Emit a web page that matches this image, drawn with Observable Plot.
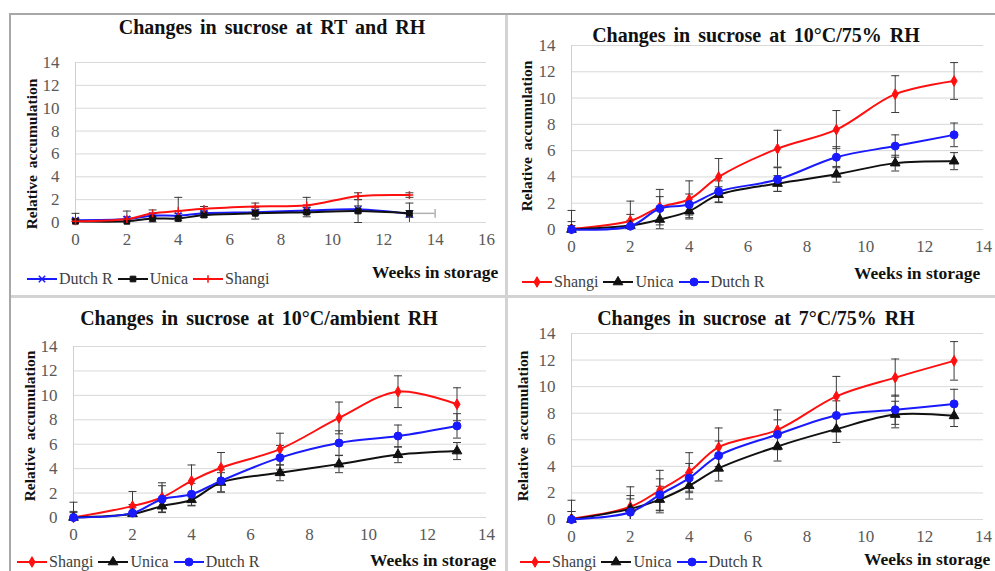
<!DOCTYPE html>
<html><head><meta charset="utf-8">
<script src="https://cdn.jsdelivr.net/npm/d3@7"></script>
<script src="https://cdn.jsdelivr.net/npm/@observablehq/plot@0.6"></script>
<style>
html,body{margin:0;padding:0;background:#fff;overflow:hidden;}
#root{position:relative;width:995px;height:571px;overflow:hidden;font-family:"Liberation Serif","Times New Roman",serif;background:#fff;}
.title{position:absolute;font-weight:bold;font-size:20px;white-space:nowrap;color:#111;transform:translate(-50%,-50%);word-spacing:3px;}
.ylab{position:absolute;font-weight:bold;font-size:15.5px;white-space:nowrap;color:#111;transform:translate(-50%,-50%) rotate(-90deg);word-spacing:3px;}
.xlab{position:absolute;font-weight:bold;font-size:17.5px;white-space:nowrap;color:#111;transform:translateY(-50%);}
.legend{position:absolute;display:flex;align-items:center;font-size:16px;color:#404040;white-space:nowrap;transform:translateY(-50%);}
.legend span{margin:0 5px 0 2px;}
.line{position:absolute;}
</style></head>
<body><div id="root"></div>
<script>
// ---------- data ----------
const weeks = [0, 2, 3, 4, 5, 7, 9, 11, 13];
const yTicks = [0, 2, 4, 6, 8, 10, 12, 14];
const xTicks16 = [0, 2, 4, 6, 8, 10, 12, 14, 16];
const xTicks14 = [0, 2, 4, 6, 8, 10, 12, 14];

// Panel 1: RT and RH
const rtShangi    = [0.1, 0.3, 0.8, 1.0, 1.2, 1.4, 1.5, 2.3, 2.4];
const rtShangiErr = [0.7, 0.7, 0.3, 1.2, 0.2, 0.3, 0.7, 0.3, 0.2];
const rtUnica     = [0.1, 0.1, 0.35, 0.35, 0.65, 0.8, 0.9, 1.0, 0.8];
const rtUnicaErr  = [0.2, 0.2, 0.3, 0.2, 0.2, 0.5, 0.4, 1.0, 0.9];
const rtDutch     = [0.2, 0.3, 0.6, 0.6, 0.8, 0.9, 1.05, 1.15, 0.75];
const rtDutchErr  = [0.1, 0.2, 0.2, 0.2, 0.2, 0.2, 0.3, 0.3, 0.3];
const rtUnicaXErr = [0, 0, 0, 0, 0, 0, 0, 0, 1];

// Panel 2: 10°C / 75% RH
const c10Shangi    = [0.05, 0.66, 1.7, 2.3, 4.0, 6.15, 7.6, 10.3, 11.3];
const c10ShangiErr = [1.4, 1.5, 1.35, 1.4, 1.4, 1.4, 1.45, 1.4, 1.4];
const c10Unica     = [0, 0.3, 0.76, 1.4, 2.65, 3.5, 4.2, 5.05, 5.2];
const c10UnicaErr  = [0.3, 0.4, 0.7, 0.6, 0.6, 0.6, 0.6, 0.6, 0.65];
const c10Dutch     = [0, 0.25, 1.6, 1.9, 2.9, 3.8, 5.5, 6.35, 7.2];
const c10DutchErr  = [0.6, 0.9, 0.9, 0.8, 0.8, 0.9, 0.8, 0.85, 0.9];

// Panel 3: 10°C / ambient RH
const a10Shangi    = [0, 0.93, 1.64, 3.0, 4.07, 5.6, 8.15, 10.3, 9.27];
const a10ShangiErr = [1.25, 1.2, 1.2, 1.3, 1.25, 1.3, 1.3, 1.3, 1.35];
const a10Unica     = [0, 0.3, 0.93, 1.45, 2.87, 3.66, 4.37, 5.14, 5.44];
const a10UnicaErr  = [0.4, 0.5, 0.5, 0.5, 0.8, 0.65, 0.7, 0.65, 0.7];
const a10Dutch     = [0, 0.36, 1.5, 1.9, 3.0, 4.9, 6.1, 6.67, 7.5];
const a10DutchErr  = [0.5, 0.7, 1.1, 0.9, 0.9, 1.0, 1.0, 0.9, 1.0];

// Panel 4: 7°C / 75% RH
const c7Shangi    = [0.05, 0.96, 2.2, 3.58, 5.44, 6.75, 9.27, 10.68, 11.94];
const c7ShangiErr = [1.4, 1.5, 1.5, 1.45, 1.45, 1.5, 1.5, 1.4, 1.45];
const c7Unica     = [0, 0.8, 1.5, 2.54, 3.85, 5.5, 6.8, 7.9, 7.8];
const c7UnicaErr  = [0.6, 1.0, 1.0, 1.0, 0.95, 1.1, 1.0, 1.0, 0.8];
const c7Dutch     = [0, 0.55, 1.86, 3.12, 4.81, 6.4, 7.83, 8.26, 8.7];
const c7DutchErr  = [0.6, 1.0, 1.2, 1.1, 1.1, 1.1, 1.1, 1.1, 1.1];

const titles = [
  "Changes in sucrose at RT and RH",
  "Changes in sucrose at 10°C/75% RH",
  "Changes in sucrose at 10°C/ambient RH",
  "Changes in sucrose at 7°C/75% RH"
];
const yLabel = "Relative accumulation";
const xLabel = "Weeks in storage";

// ---------- styles ----------
const RED = "#ff1010", BLACK = "#111111", BLUE = "#1a1aff";
const sShangi = {name: "Shangi", color: RED, symbol: "diamond", r: 3.2};
const sUnica = {name: "Unica", color: BLACK, symbol: "triangle", r: 3.6};
const sDutch = {name: "Dutch R", color: BLUE, symbol: "circle", r: 4};

const panels = [
  {title: titles[0], x0: 75, x1: 486, yb: 222, yt: 62, xmax: 16, xTicks: xTicks16, mr: 14,
   titleX: 272, titleY: 27, ylabX: 32, ylabY: 154, xlabX: 372, xlabY: 272, legX: 27, legY: 279,
   series: [
     {...sDutch, symbol: "times", r: 3, v: rtDutch, e: rtDutchErr},
     {...sUnica, symbol: "square", r: 3.2, v: rtUnica, e: rtUnicaErr, xe: rtUnicaXErr},
     {...sShangi, symbol: "plus", r: 2.6, v: rtShangi, e: rtShangiErr}
   ]},
  {title: titles[1], x0: 571, x1: 983, yb: 229, yt: 45, xmax: 14, xTicks: xTicks14, mr: 10,
   titleX: 756, titleY: 35, ylabX: 527, ylabY: 136, xlabX: 854, xlabY: 273, legX: 522, legY: 282,
   series: [
     {...sShangi, v: c10Shangi, e: c10ShangiErr},
     {...sUnica, v: c10Unica, e: c10UnicaErr},
     {...sDutch, v: c10Dutch, e: c10DutchErr}
   ]},
  {title: titles[2], x0: 73, x1: 486, yb: 517, yt: 346, xmax: 14, xTicks: xTicks14, mr: 14,
   titleX: 259, titleY: 318, ylabX: 30, ylabY: 426, xlabX: 370, xlabY: 560, legX: 17, legY: 562,
   series: [
     {...sShangi, v: a10Shangi, e: a10ShangiErr},
     {...sUnica, v: a10Unica, e: a10UnicaErr},
     {...sDutch, v: a10Dutch, e: a10DutchErr}
   ]},
  {title: titles[3], x0: 571, x1: 983, yb: 519, yt: 333, xmax: 14, xTicks: xTicks14, mr: 10,
   titleX: 756, titleY: 318, ylabX: 523, ylabY: 426, xlabX: 864, xlabY: 559, legX: 520, legY: 562,
   series: [
     {...sShangi, v: c7Shangi, e: c7ShangiErr},
     {...sUnica, v: c7Unica, e: c7UnicaErr},
     {...sDutch, v: c7Dutch, e: c7DutchErr}
   ]}
];

const strokeOnly = new Set(["times", "plus"]);
const capH = {draw(ctx, size) { const w = Math.sqrt(size) / 2; ctx.moveTo(-w, 0); ctx.lineTo(w, 0); }};
const capV = {draw(ctx, size) { const w = Math.sqrt(size) / 2; ctx.moveTo(0, -w); ctx.lineTo(0, w); }};
const d3sym = {diamond: d3.symbolDiamond, triangle: d3.symbolTriangle, circle: d3.symbolCircle,
               square: d3.symbolSquare, times: d3.symbolTimes, plus: d3.symbolPlus};

const root = document.getElementById("root");

function addDiv(cls, text, x, y) {
  const d = document.createElement("div");
  d.className = cls;
  d.textContent = text;
  d.style.left = x + "px";
  d.style.top = y + "px";
  root.appendChild(d);
  return d;
}

// frame / divider lines
function addLine(x, y, w, h, color) {
  const d = document.createElement("div");
  d.className = "line";
  Object.assign(d.style, {left: x + "px", top: y + "px", width: w + "px", height: h + "px", background: color});
  root.appendChild(d);
}
addLine(10, 13, 985, 2, "#a8a8a8");
addLine(9, 13, 2, 558, "#a8a8a8");
addLine(505, 15, 3, 556, "#d3d3d3");
addLine(11, 295, 984, 3, "#d3d3d3");

for (const p of panels) {
  const ml = 62, mr = p.mr, mt = 12, mb = 34;
  const width = p.x1 - p.x0 + ml + mr;
  const height = p.yb - p.yt + mt + mb;
  const marks = [
    Plot.ruleY(yTicks, {stroke: "#d9d9d9", strokeWidth: 1}),
    Plot.ruleX([0], {y1: 0, y2: 14, stroke: "#d0d0d0", strokeWidth: 1})
  ];
  for (const s of p.series) {
    const rows = weeks.map((w, i) => ({week: w, value: s.v[i], err: s.e[i], xe: s.xe ? s.xe[i] : 0}));
    marks.push(
      Plot.ruleX(rows, {x: "week", y1: d => Math.max(0, d.value - d.err), y2: d => d.value + d.err, stroke: "#3a3a3a", strokeWidth: 1}),
      Plot.dot(rows, {x: "week", y: d => d.value + d.err, symbol: capH, r: 4.5, stroke: "#3a3a3a", fill: "none", strokeWidth: 1}),
      Plot.dot(rows.filter(d => d.value - d.err >= 0), {x: "week", y: d => d.value - d.err, symbol: capH, r: 4.5, stroke: "#3a3a3a", fill: "none", strokeWidth: 1})
    );
    const xr = rows.filter(d => d.xe > 0);
    if (xr.length) {
      marks.push(
        Plot.ruleY(xr, {y: "value", x1: "week", x2: d => d.week + d.xe, stroke: "#b0b0b0", strokeWidth: 1.5}),
        Plot.dot(xr, {x: d => d.week + d.xe, y: "value", symbol: capV, r: 5, stroke: "#b0b0b0", fill: "none", strokeWidth: 1.5})
      );
    }
    s.rows = rows;
  }
  for (const s of p.series) {
    marks.push(Plot.line(s.rows, {x: "week", y: "value", stroke: s.color, strokeWidth: 2, curve: "catmull-rom"}));
  }
  for (const s of p.series) {
    const so = strokeOnly.has(s.symbol);
    marks.push(Plot.dot(s.rows, {x: "week", y: "value", symbol: s.symbol, r: s.r,
      fill: so ? "none" : s.color, stroke: s.color, strokeWidth: so ? 1.5 : 1}));
  }
  const svg = Plot.plot({
    width, height, marginLeft: ml, marginRight: mr, marginTop: mt, marginBottom: mb,
    x: {domain: [0, p.xmax], ticks: p.xTicks, tickSize: 0, tickPadding: 10, label: null},
    y: {domain: [0, 14], ticks: yTicks, tickSize: 0, tickPadding: 16, label: null},
    style: {fontFamily: "'Liberation Serif', 'Times New Roman', serif", fontSize: "17px", color: "#595959",
            background: "transparent", overflow: "visible"},
    marks
  });
  svg.style.position = "absolute";
  svg.style.left = (p.x0 - ml) + "px";
  svg.style.top = (p.yt - mt) + "px";
  root.appendChild(svg);

  addDiv("title", p.title, p.titleX, p.titleY);
  addDiv("ylab", yLabel, p.ylabX, p.ylabY);
  addDiv("xlab", xLabel, p.xlabX, p.xlabY);

  // legend
  const leg = document.createElement("div");
  leg.className = "legend";
  leg.style.left = p.legX + "px";
  leg.style.top = p.legY + "px";
  for (const s of p.series) {
    const ns = "http://www.w3.org/2000/svg";
    const ic = document.createElementNS(ns, "svg");
    ic.setAttribute("width", 30); ic.setAttribute("height", 12);
    const ln = document.createElementNS(ns, "line");
    ln.setAttribute("x1", 0); ln.setAttribute("x2", 30); ln.setAttribute("y1", 6); ln.setAttribute("y2", 6);
    ln.setAttribute("stroke", s.color); ln.setAttribute("stroke-width", 2);
    ic.appendChild(ln);
    const pt = document.createElementNS(ns, "path");
    const so = strokeOnly.has(s.symbol);
    pt.setAttribute("d", d3.symbol(d3sym[s.symbol], s.r * s.r * Math.PI)());
    pt.setAttribute("transform", "translate(15,6)");
    pt.setAttribute("fill", so ? "none" : s.color);
    pt.setAttribute("stroke", s.color);
    pt.setAttribute("stroke-width", so ? 1.5 : 1);
    ic.appendChild(pt);
    leg.appendChild(ic);
    const t = document.createElement("span");
    t.textContent = s.name;
    leg.appendChild(t);
  }
  root.appendChild(leg);
}
</script>
</body></html>
